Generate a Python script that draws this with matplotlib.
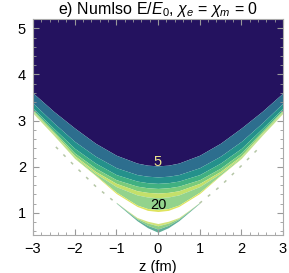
import numpy as np
import matplotlib.pyplot as plt
from matplotlib.ticker import MultipleLocator

plt.rcParams['font.family'] = ['Liberation Sans', 'DejaVu Sans']
plt.rcParams['mathtext.fontset'] = 'custom'
plt.rcParams['mathtext.rm'] = 'Liberation Sans'
plt.rcParams['mathtext.it'] = 'Liberation Sans:italic'

z = [-3, -2.5, -2, -1.5, -1, -0.5, -0.25, 0, 0.25, 0.5, 1, 1.5, 2, 2.5, 3]

# upper contour boundaries (top -> bottom)
b1 = [3.60, 3.20, 2.84, 2.51, 2.25, 2.08, 2.035, 2.02, 2.035, 2.08, 2.25, 2.51, 2.84, 3.20, 3.60]
b2 = [3.38, 2.95, 2.55, 2.23, 1.98, 1.83, 1.795, 1.78, 1.795, 1.83, 1.98, 2.23, 2.55, 2.95, 3.38]
b3 = [3.27, 2.83, 2.40, 2.08, 1.83, 1.69, 1.655, 1.64, 1.655, 1.69, 1.83, 2.08, 2.40, 2.83, 3.27]
b4 = [3.23, 2.77, 2.30, 1.97, 1.72, 1.58, 1.545, 1.53, 1.545, 1.58, 1.72, 1.97, 2.30, 2.77, 3.23]
b5 = [3.21, 2.74, 2.24, 1.90, 1.64, 1.48, 1.445, 1.43, 1.445, 1.48, 1.64, 1.90, 2.24, 2.74, 3.21]
b6 = [3.19, 2.71, 2.21, 1.86, 1.57, 1.39, 1.345, 1.33, 1.345, 1.39, 1.57, 1.86, 2.21, 2.71, 3.19]
b7 = [3.17, 2.69, 2.19, 1.82, 1.45, 1.17, 1.095, 1.07, 1.095, 1.17, 1.45, 1.82, 2.19, 2.69, 3.17]
b8 = [3.16, 2.68, 2.18, 1.81, 1.42, 1.14, 1.055, 1.03, 1.055, 1.14, 1.42, 1.81, 2.18, 2.68, 3.16]

# lower (inner) band near the vertex
z_low = [-1, -0.75, -0.5, -0.25, 0, 0.25, 0.5, 0.75, 1]
l1 = [1.23, 1.06, 0.90, 0.82, 0.77, 0.82, 0.90, 1.06, 1.23]
l2 = [1.225, 1.05, 0.88, 0.78, 0.72, 0.78, 0.88, 1.05, 1.225]
l3 = [1.22, 1.04, 0.86, 0.73, 0.65, 0.73, 0.86, 1.04, 1.22]
l4 = [1.21, 1.02, 0.83, 0.68, 0.58, 0.68, 0.83, 1.02, 1.21]

# broken arms of the inner contour
z_arm_l = [-2.45, -2.0, -1.5, -1.0]
y_arm_l = [2.43, 2.02, 1.58, 1.21]
z_arm_r = [1.0, 1.5, 2.0, 2.45]
y_arm_r = [1.21, 1.58, 2.02, 2.43]

labels = ['5', '20']
label_y = [2.1, 1.18]

upper_colors = ['#2d6e8e', '#24918b', '#40b081', '#7bcb7b', '#c4e06a', '#93d38c', '#dfe45c']
lower_colors = ['#d2e27a', '#8fcf83', '#5fae98']

fig = plt.figure(figsize=(2.89, 2.73), dpi=100)
ax = fig.add_axes([0.114, 0.139, 0.865, 0.791])
ax.set_xlim(-3, 3)
ax.set_ylim(0.52, 5.2)

ax.fill_between(z, b1, 5.2, color='#24125f', lw=0)
bounds = [b1, b2, b3, b4, b5, b6, b7, b8]
for top, bot, c in zip(bounds[:-1], bounds[1:], upper_colors):
    ax.fill_between(z, bot, top, color=c, lw=0)

low = [l1, l2, l3, l4]
for top, bot, c in zip(low[:-1], low[1:], lower_colors):
    ax.fill_between(z_low, bot, top, color=c, lw=0)

for za, ya in [(z_arm_l, y_arm_l), (z_arm_r, y_arm_r)]:
    ax.plot(za, ya, color='#b5c6a6', lw=1.1, ls=(0, (2, 5)))

ax.text(0, label_y[0], labels[0], color='#ece38c', fontsize=10.5, ha='center', va='center')
ax.text(0, label_y[1], labels[1], color='black', fontsize=10.5, ha='center', va='center')

ax.set_title(r'e) NumIso E/$E_0$, $\chi_e$ = $\chi_m$ = 0', fontsize=11.5, pad=2)
ax.set_xlabel('z (fm)', fontsize=10.5, labelpad=3)

ax.xaxis.set_major_locator(MultipleLocator(1))
ax.xaxis.set_minor_locator(MultipleLocator(0.2))
ax.yaxis.set_major_locator(MultipleLocator(1))
ax.yaxis.set_minor_locator(MultipleLocator(0.2))
ax.tick_params(which='both', direction='in', top=True, right=True, color='#999999',
               labelsize=10.5, pad=5)
ax.tick_params(which='major', length=4)
ax.tick_params(which='minor', length=2)
for s in ax.spines.values():
    s.set_color('#aaaaaa')
    s.set_linewidth(0.8)

fig.savefig('out.png', dpi=100)
